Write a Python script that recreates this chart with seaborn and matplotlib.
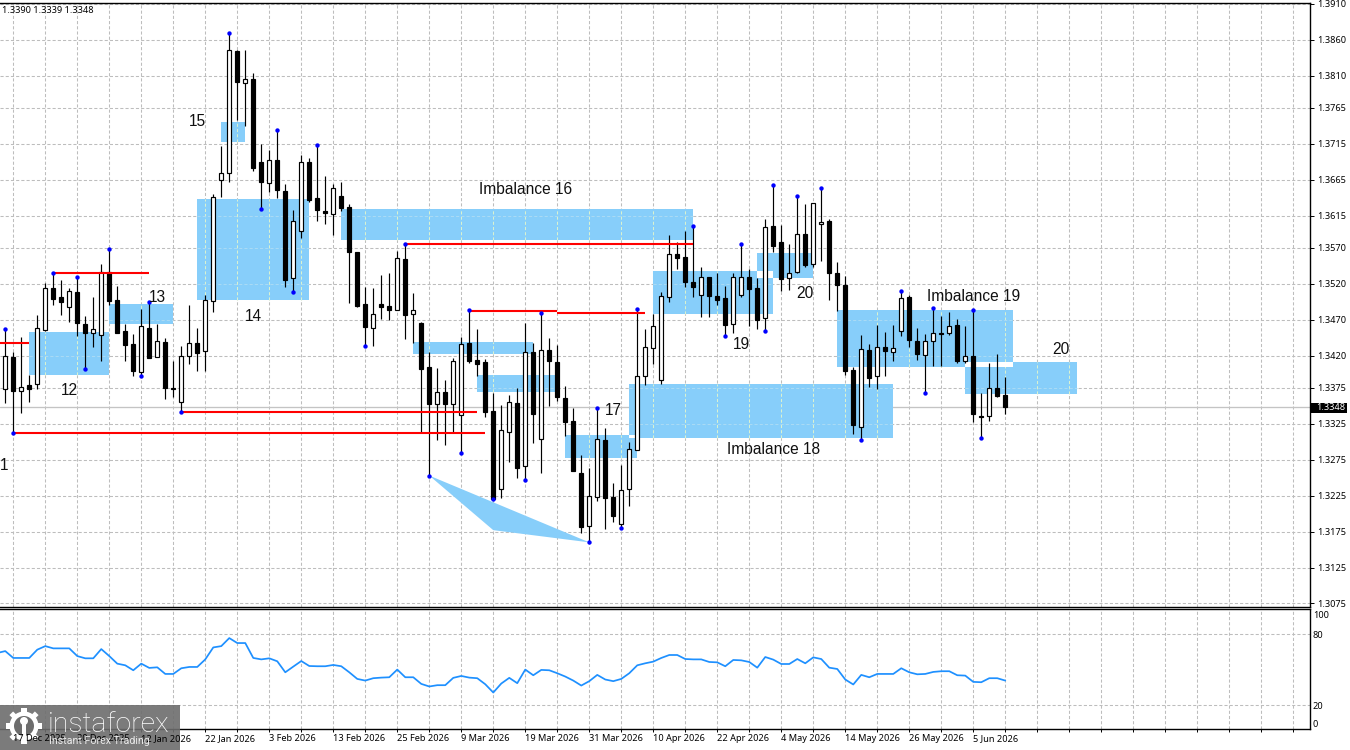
import numpy as np
import pandas as pd
import seaborn as sns
import matplotlib
matplotlib.use("Agg")
import matplotlib.pyplot as plt
from matplotlib.patches import Rectangle, Polygon, Circle

sns.set_theme(style="white")
plt.rcParams["font.family"] = ["Liberation Sans", "DejaVu Sans"]

opens = [1.3373,1.3418,1.3371,1.3379,1.3381,1.3456,1.3514,1.3501,1.3488,1.3509,1.3464,1.3451,1.3449,1.3537,1.3498,1.3454,1.3436,1.3397,1.3459,1.3418,1.3439,1.3375,1.3356,1.3420,1.3437,1.3426,
         1.3496,1.3664,1.3674,1.3844,1.3800,1.3805,1.3690,1.3661,1.3692,1.3649,1.3528,1.3594,1.3689,1.3639,1.3622,1.3617,1.3643,1.3627,1.3564,1.3492,1.3459,1.3492,1.3489,1.3484,1.3555,1.3478,
         1.3466,1.3404,1.3353,1.3369,1.3353,1.3338,1.3437,1.3414,1.3411,1.3343,1.3235,1.3314,1.3354,1.3266,1.3425,1.3304,1.3428,1.3411,1.3361,1.3329,1.3256,1.3183,1.3223,1.3302,1.3223,1.3186,
         1.3234,1.3288,1.3392,1.3431,1.3386,1.3501,1.3562,1.3558,1.3522,1.3504,1.3529,1.3503,1.3500,1.3464,1.3505,1.3530,1.3514,1.3472,1.3600,1.3578,1.3528,1.3536,1.3590,1.3548,1.3603,1.3607,
         1.3535,1.3518,1.3400,1.3320,1.3428,1.3391,1.3432,1.3425,1.3455,1.3502,1.3441,1.3421,1.3441,1.3451,1.3451,1.3463,1.3413,1.3420,1.3336,1.3336,1.3375,1.3365]
closes = [1.3420,1.3371,1.3377,1.3374,1.3458,1.3514,1.3499,1.3495,1.3510,1.3465,1.3452,1.3457,1.3537,1.3496,1.3452,1.3435,1.3399,1.3461,1.3417,1.3440,1.3375,1.3374,1.3420,1.3438,1.3424,1.3497,
          1.3641,1.3675,1.3845,1.3801,1.3805,1.3682,1.3662,1.3693,1.3650,1.3526,1.3608,1.3690,1.3637,1.3623,1.3618,1.3653,1.3626,1.3565,1.3489,1.3460,1.3478,1.3488,1.3484,1.3556,1.3477,1.3483,
          1.3402,1.3352,1.3370,1.3353,1.3413,1.3436,1.3413,1.3408,1.3342,1.3220,1.3316,1.3355,1.3264,1.3425,1.3339,1.3428,1.3412,1.3362,1.3328,1.3259,1.3181,1.3224,1.3304,1.3222,1.3197,1.3233,
          1.3290,1.3391,1.3432,1.3461,1.3503,1.3562,1.3556,1.3523,1.3516,1.3530,1.3503,1.3498,1.3462,1.3530,1.3530,1.3513,1.3470,1.3599,1.3573,1.3527,1.3535,1.3589,1.3546,1.3633,1.3606,1.3535,
          1.3519,1.3398,1.3323,1.3429,1.3389,1.3432,1.3426,1.3430,1.3500,1.3442,1.3422,1.3440,1.3452,1.3450,1.3461,1.3413,1.3420,1.3339,1.3334,1.3375,1.3364,1.3348]
highs = [1.3457,1.3425,1.3446,1.3393,1.3477,1.3521,1.3535,1.3526,1.3514,1.3530,1.3475,1.3501,1.3548,1.3568,1.3517,1.3464,1.3450,1.3485,1.3495,1.3464,1.3444,1.3413,1.3433,1.3490,1.3458,1.3505,
         1.3645,1.3712,1.3869,1.3845,1.3846,1.3813,1.3715,1.3706,1.3734,1.3659,1.3623,1.3699,1.3695,1.3713,1.3670,1.3659,1.3662,1.3631,1.3565,1.3515,1.3514,1.3532,1.3535,1.3566,1.3575,1.3507,
         1.3467,1.3425,1.3403,1.3386,1.3417,1.3446,1.3483,1.3457,1.3415,1.3368,1.3351,1.3365,1.3375,1.3465,1.3438,1.3479,1.3444,1.3435,1.3378,1.3347,1.3282,1.3263,1.3347,1.3319,1.3242,1.3268,
         1.3300,1.3485,1.3457,1.3478,1.3509,1.3588,1.3578,1.3594,1.3600,1.3543,1.3529,1.3535,1.3517,1.3535,1.3575,1.3540,1.3528,1.3610,1.3657,1.3602,1.3576,1.3643,1.3631,1.3633,1.3653,1.3610,
         1.3550,1.3531,1.3404,1.3449,1.3436,1.3463,1.3453,1.3463,1.3510,1.3504,1.3458,1.3450,1.3486,1.3475,1.3481,1.3471,1.3461,1.3483,1.3368,1.3410,1.3422,1.3390]
lows = [1.3354,1.3312,1.3340,1.3356,1.3373,1.3455,1.3491,1.3476,1.3467,1.3448,1.3402,1.3432,1.3413,1.3491,1.3452,1.3413,1.3391,1.3391,1.3417,1.3418,1.3360,1.3363,1.3342,1.3408,1.3399,1.3399,
        1.3481,1.3641,1.3662,1.3748,1.3740,1.3677,1.3624,1.3648,1.3640,1.3516,1.3508,1.3584,1.3634,1.3607,1.3604,1.3588,1.3622,1.3494,1.3488,1.3434,1.3434,1.3471,1.3469,1.3483,1.3443,1.3438,
        1.3312,1.3253,1.3302,1.3296,1.3312,1.3284,1.3410,1.3392,1.3334,1.3220,1.3222,1.3272,1.3250,1.3247,1.3298,1.3256,1.3350,1.3357,1.3308,1.3259,1.3173,1.3160,1.3218,1.3179,1.3188,1.3180,
        1.3210,1.3288,1.3379,1.3409,1.3380,1.3495,1.3541,1.3515,1.3502,1.3474,1.3474,1.3491,1.3447,1.3452,1.3502,1.3461,1.3457,1.3454,1.3565,1.3510,1.3512,1.3535,1.3543,1.3544,1.3552,1.3498,
        1.3482,1.3393,1.3311,1.3302,1.3377,1.3374,1.3391,1.3412,1.3448,1.3432,1.3414,1.3368,1.3406,1.3406,1.3449,1.3410,1.3410,1.3328,1.3306,1.3329,1.3363,1.3339]

# The oscillator carries one reading from before the first visible candle
rsi_lead = 64.2
rsi = [65.8,60.0,60.0,60.0,67.0,70.0,68.1,68.1,68.1,61.6,59.7,59.7,67.5,61.6,55.2,53.8,49.6,55.2,51.6,52.1,46.5,46.5,51.3,52.4,52.4,58.8,
       68.9,70.0,76.8,72.6,72.6,60.0,58.8,59.7,57.2,47.9,52.7,57.4,53.2,53.0,53.0,54.1,53.0,47.9,42.3,40.9,42.9,43.4,43.7,50.2,43.7,43.7,
       38.1,35.9,37.0,37.0,43.2,44.8,43.4,42.9,37.8,30.8,38.4,43.2,38.7,50.2,45.4,49.9,49.6,47.1,44.3,40.9,36.7,40.4,45.7,41.8,40.4,42.3,
       47.1,53.8,55.5,56.9,60.0,62.5,62.5,59.1,58.8,58.8,56.6,56.3,53.0,58.3,58.0,56.6,51.8,60.8,58.6,54.9,54.9,59.1,55.5,60.5,59.1,51.8,
       50.7,41.8,37.6,45.7,43.7,46.5,46.5,46.5,51.3,47.9,46.2,46.5,48.2,48.8,48.8,45.4,45.1,39.8,39.5,42.9,42.9,40.9]

# Swing fractals flagged on the price panel
swing_high_bars = [0,6,9,13,18,28,34,39,50,58,67,74,79,86,92,96,99,102,112,116,121]
swing_low_bars = [1,10,17,22,32,36,45,53,57,61,65,73,77,90,95,107,115,122]

# Imbalance zones: first bar, last bar, upper price, lower price
zones = [(3,13,1.34530,1.33935),(13,21,1.34920,1.34645),(24,38,1.36380,1.34975),(27,30,1.37456,1.37180),
         (42,86,1.36240,1.35810),(51,66,1.34390,1.34220),(59,69,1.33930,1.33700),(70,79,1.33100,1.32780),
         (78,111,1.33805,1.33060),(81,96,1.35380,1.34780),(94,101,1.35630,1.35280),(104,126,1.34835,1.34040),
         (120,134,1.34110,1.33670)]
wedge_bars = [53,61,73]
wedge_prices = [1.3253,1.3177,1.3160]

# Liquidity levels: first bar, last bar, price
levels = [(-1,3,1.3438),(6,18,1.3535),(1,60,1.3312),(22,59,1.3342),(50,86,1.3575),(58,69,1.3482),(69,80,1.3480)]

# Annotations: bar position, price, text
notes = [(8,1.3372,"12"),(19,1.3501,"13"),(31,1.3475,"14"),(24,1.3746,"15"),(65,1.3652,"Imbalance 16"),
         (76,1.3343,"17"),(96,1.3289,"Imbalance 18"),(92,1.3436,"19"),(100,1.3507,"20"),(121,1.3503,"Imbalance 19"),
         (132,1.3428,"20"),(-0.65,1.3267,"1")]

price_ticks = [1.3910,1.3860,1.3810,1.3765,1.3715,1.3665,1.3615,1.3570,1.3520,1.3470,1.3420,1.3375,1.3325,1.3275,1.3225,1.3175,1.3125,1.3075]
date_labels = ["17 Dec 2025","30 Dec 2025","12 Jan 2026","22 Jan 2026","3 Feb 2026","13 Feb 2026","25 Feb 2026","9 Mar 2026",
               "19 Mar 2026","31 Mar 2026","10 Apr 2026","22 Apr 2026","4 May 2026","14 May 2026","26 May 2026","5 Jun 2026"]
rsi_ticks = [0,20,80,100]
last_price = 1.3348
quote_text = "1.3390 1.3339 1.3348"

bars = np.arange(len(closes))
candles = pd.DataFrame({"bar": bars, "open": opens, "close": closes, "high": highs, "low": lows})
candles["body_low"] = candles[["open", "close"]].min(axis=1)
candles["body_high"] = candles[["open", "close"]].max(axis=1)
rising = candles["close"] >= candles["open"]
oscillator = pd.DataFrame({"bar": np.r_[-1, bars], "rsi": [rsi_lead] + rsi})

W, H = 1350, 750
LABEL_FONT = ["Noto Sans", "DejaVu Sans"]
LABEL_SIZE = 6.6
fig = plt.figure(figsize=(W / 100, H / 100), dpi=100, facecolor="white")
PANEL_RIGHT = 1309.5 / W
ax = fig.add_axes([0, 1 - 607 / H, PANEL_RIGHT, (607 - 2.7) / H])
ax_rsi = fig.add_axes([0, 1 - 729 / H, PANEL_RIGHT, (729 - 609.3) / H])

XLIM = (-0.66, 163.03)
GRID = "#bdbdbd"
ZONE = "#87CEFA"
DASH = (0, (3, 2))
grid_bars = np.arange(1, 163, 4)

for a in (ax, ax_rsi):
    a.set_facecolor("white")
    a.set_xlim(*XLIM)
    for s in ("top", "right", "bottom"):
        a.spines[s].set_visible(True)
        a.spines[s].set_color("black")
        a.spines[s].set_linewidth(1.0)
    a.spines["left"].set_visible(False)
    a.yaxis.tick_right()
    a.tick_params(axis="y", which="major", right=True, left=False, length=3, width=0.7, color="black",
                  labelcolor="black", pad=2.5)
    a.set_xticks(grid_bars)
    a.set_xlabel("")
    a.set_ylabel("")
    a.set_axisbelow(True)
    for g in grid_bars:
        a.axvline(g, color=GRID, lw=0.75, ls=DASH, zorder=1)
ax.tick_params(axis="x", bottom=False, labelbottom=False)
ax_rsi.tick_params(axis="x", bottom=True, length=2, width=0.7, color="black", labelbottom=False)

ax.set_ylim(1.3070, 1.39115)
ax.set_yticks(price_ticks)
ax.set_yticklabels([f"{p:.4f}" for p in price_ticks], fontsize=LABEL_SIZE, family=LABEL_FONT)
for p in price_ticks:
    ax.axhline(p, color=GRID, lw=0.75, ls=DASH, zorder=1)
ax.axhline(last_price, color="#c4c4c4", lw=0.95, zorder=1.2)

# Imbalance zones, with the overlap of two neighbouring zones knocked out to white
for b0, b1, hi, lo in zones:
    ax.add_patch(Rectangle((b0, lo), b1 - b0, hi - lo, fc=ZONE, ec="none", zorder=1.5))
    for g in grid_bars[(grid_bars > b0) & (grid_bars < b1)]:
        ax.plot([g, g], [lo, hi], color="#d9f2d0", lw=0.75, ls=DASH, zorder=1.6)
    for p in price_ticks:
        if lo < p < hi:
            ax.plot([b0, b1], [p, p], color="#a9daf5", lw=0.75, ls=DASH, zorder=1.6)
for i, (a0, a1, ah, al) in enumerate(zones):
    for b0, b1, bh, bl in zones[i + 1:]:
        x0, x1, y0, y1 = max(a0, b0), min(a1, b1), max(al, bl), min(ah, bh)
        if x1 > x0 and y1 > y0:
            ax.add_patch(Rectangle((x0, y0), x1 - x0, y1 - y0, fc="white", ec="none", zorder=1.7))
ax.add_patch(Polygon(list(zip(wedge_bars, wedge_prices)), closed=True, fc=ZONE, ec="none", zorder=1.5))

# Candles: black-bodied on falling bars, hollow on rising bars
BODY = 0.46
ax.vlines(candles["bar"], candles["low"], candles["high"], color="black", lw=0.85, zorder=3)
ax.bar(candles["bar"][rising], (candles["body_high"] - candles["body_low"])[rising], bottom=candles["body_low"][rising],
       width=BODY, color="white", edgecolor="black", linewidth=0.85, zorder=3.2)
ax.bar(candles["bar"][~rising], (candles["body_high"] - candles["body_low"])[~rising], bottom=candles["body_low"][~rising],
       width=BODY, color="black", edgecolor="black", linewidth=0.85, zorder=3.2)

for b0, b1, p in levels:
    ax.plot([b0, b1], [p, p], color="#ff0000", lw=1.5, zorder=4, solid_capstyle="butt")

swings = pd.concat([
    pd.DataFrame({"bar": swing_high_bars, "price": candles["high"].iloc[swing_high_bars].values}),
    pd.DataFrame({"bar": swing_low_bars, "price": candles["low"].iloc[swing_low_bars].values}),
])
sns.scatterplot(data=swings, x="bar", y="price", ax=ax, color="#0000ff", marker="o", s=10, linewidth=0,
                zorder=5, legend=False)
ax.set_xlabel("")
ax.set_ylabel("")

for b, p, s in notes:
    ax.text(b, p, s, fontsize=11.2, ha="left" if s == "1" else "center", va="center", color="#101010", zorder=6,
            clip_on=True)

# RSI panel
ax_rsi.set_ylim(0, 101.1)
ax_rsi.set_yticks(rsi_ticks)
labels = ax_rsi.set_yticklabels([str(t) for t in rsi_ticks], fontsize=LABEL_SIZE, family=LABEL_FONT)
labels[0].set_verticalalignment("bottom")
labels[3].set_verticalalignment("top")
for t in (20, 80):
    ax_rsi.axhline(t, color=GRID, lw=0.75, ls=DASH, zorder=1)
ax_rsi.tick_params(axis="y", length=0, pad=2.5)
sns.lineplot(data=oscillator, x="bar", y="rsi", ax=ax_rsi, color="#1E90FF", lw=1.25, zorder=3, legend=False,
             errorbar=None)
ax_rsi.set_xlabel("")
ax_rsi.set_ylabel("")

# Page-level overlay in pixel units: date axis text, quote, price flag and brand badge
ov = fig.add_axes([0, 0, 1, 1], facecolor="none")
ov.set_xlim(0, W)
ov.set_ylim(H, 0)
ov.axis("off")
ov.set_zorder(10)

px = lambda b: (b - XLIM[0]) / (XLIM[1] - XLIM[0]) * PANEL_RIGHT * W
for b, s in zip(grid_bars[::2], date_labels):
    ov.text(px(b) - 0.5, 738.5, s, fontsize=LABEL_SIZE, family=LABEL_FONT, ha="left", va="center", color="black")

ov.text(2, 10.5, quote_text, fontsize=LABEL_SIZE, family=LABEL_FONT, ha="left", va="center", color="black")
ov.add_patch(Rectangle((1311, 402.5), 36, 10, fc="black", ec="none"))
ov.text(1316, 407.5, f"{last_price:.4f}", fontsize=LABEL_SIZE, family=LABEL_FONT, ha="left", va="center", color="white")

BADGE = "#6d6d6d"
ov.add_patch(Rectangle((0, 705), 180, 45, fc=BADGE, ec="none", alpha=0.9))
gear = (24, 726)
for ang in np.arange(0, 360, 45):
    c, s = np.cos(np.radians(ang)), np.sin(np.radians(ang))
    tooth = np.array([[-2.6, 12], [2.6, 12], [2.6, 18], [-2.6, 18]])
    ov.add_patch(Polygon(np.c_[gear[0] + tooth[:, 0] * c - tooth[:, 1] * s, gear[1] + tooth[:, 0] * s + tooth[:, 1] * c],
                         closed=True, fc="white", ec="none"))
ov.add_patch(Circle(gear, 14.5, fc="white", ec="none"))
ov.add_patch(Circle(gear, 10, fc=BADGE, ec="none"))
ov.add_patch(Circle((gear[0], gear[1] - 5), 4, fc="white", ec="none"))
ov.add_patch(Rectangle((gear[0] - 2, gear[1] - 3), 4, 17, fc="white", ec="none"))
ov.text(48, 724, "instaforex", fontsize=20.5, family="Roboto", weight="light", color="white", ha="left", va="center")
ov.text(49, 741, "Instant Forex Trading", fontsize=7.7, family="Roboto", color="white", alpha=0.85, ha="left", va="center")

fig.savefig("out.png", dpi=100, facecolor="white")
